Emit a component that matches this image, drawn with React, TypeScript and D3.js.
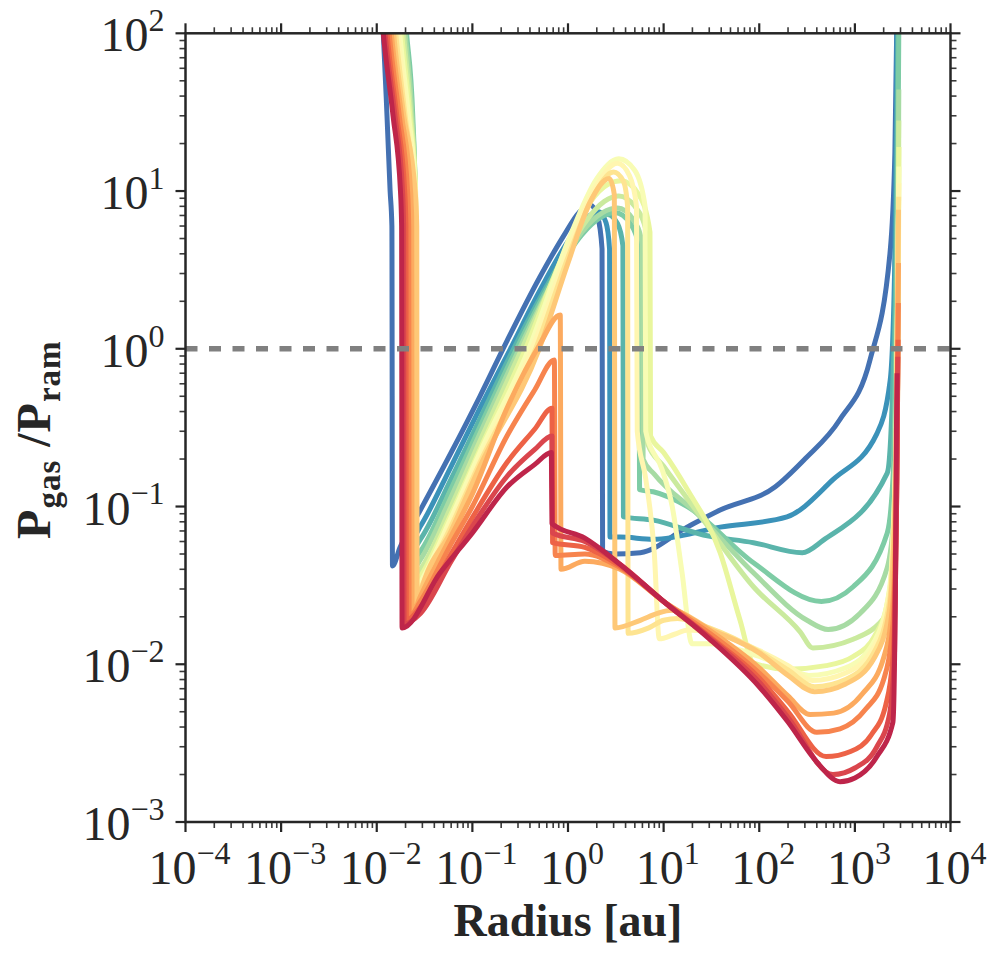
import * as d3 from "d3";

// P_gas / P_ram versus radius, one line per stage (blue = earliest, crimson = latest)
const stage00: [number, number][] = [[0.0108,200],[0.0117,100],[0.0128,30],[0.0138,10],[0.0144,6],[0.0146,0.042],[0.0175,0.055],[0.0286,0.095],[0.06,0.22],[0.12,0.5],[0.233,1.14],[0.5,2.8],[0.9,5.2],[1.3,7.3],[1.7,8.2],[2.05,6.8],[2.27,4.3],[2.3,0.052],[3.0,0.05],[5.7,0.051],[17.6,0.074],[39,0.095],[146,0.133],[300,0.2],[695,0.355],[1440,0.85],[2330,4.05],[2620,17.4],[2735,100],[2770,200]];
const stage01: [number, number][] = [[0.0168,200],[0.0185,100],[0.0222,30],[0.0245,10],[0.0247,6],[0.0249,0.066],[0.0286,0.075],[0.06,0.18],[0.12,0.42],[0.25,1.0],[0.5,2.3],[1.0,4.8],[1.5,6.6],[2.1,7.4],[2.5,6.3],[2.72,4.3],[2.75,0.064],[3.5,0.064],[7.8,0.062],[39,0.074],[195,0.086],[590,0.148],[1700,0.29],[2340,0.63],[2600,3],[2720,30],[2770,200]];
const stage02: [number, number][] = [[0.0172,200],[0.019,100],[0.0228,30],[0.0248,10],[0.025,6],[0.0252,0.056],[0.0286,0.062],[0.06,0.15],[0.12,0.36],[0.27,1.0],[0.6,2.5],[1.2,5.0],[1.8,6.6],[2.6,7.1],[3.3,6.2],[3.75,4.5],[3.8,0.086],[7.8,0.082],[26,0.066],[87,0.059],[282,0.051],[465,0.061],[2180,0.163],[2500,0.63],[2700,5],[2820,100],[2850,200]];
const stage03: [number, number][] = [[0.0186,200],[0.0205,100],[0.0238,30],[0.0252,10],[0.0254,6],[0.0256,0.048],[0.0286,0.052],[0.06,0.13],[0.12,0.32],[0.29,1.0],[0.7,2.8],[1.4,5.3],[2.2,6.8],[3.1,7.3],[4.5,6.2],[5.5,4.5],[5.6,0.128],[7.8,0.124],[17.7,0.1],[87,0.044],[447,0.025],[960,0.031],[2180,0.068],[2500,0.15],[2700,1.5],[2850,40],[2900,200]];
const stage04: [number, number][] = [[0.018,200],[0.0198,100],[0.0234,30],[0.0253,10],[0.0255,6],[0.0257,0.042],[0.0286,0.046],[0.06,0.115],[0.12,0.29],[0.31,1.0],[0.7,2.7],[1.4,5.5],[2.3,7.3],[3.3,7.8],[4.8,6.6],[6.0,4.6],[6.1,0.2],[8,0.16],[22,0.091],[87,0.038],[316,0.019],[525,0.0166],[1130,0.021],[2180,0.041],[2600,0.1],[2800,2],[2880,44]];
const stage05: [number, number][] = [[0.0172,200],[0.019,100],[0.0228,30],[0.0254,10],[0.0256,6],[0.0258,0.037],[0.0286,0.04],[0.06,0.1],[0.12,0.26],[0.33,1.0],[0.8,3.2],[1.5,6.3],[2.4,8.6],[3.4,9.3],[5,8],[6.7,5.3],[6.8,0.25],[10,0.18],[26,0.082],[87,0.031],[269,0.016],[363,0.0127],[960,0.0144],[2180,0.021],[2600,0.05],[2820,1.5],[2880,28]];
const stage06: [number, number][] = [[0.0165,200],[0.0182,100],[0.0222,30],[0.0255,10],[0.0257,6],[0.0259,0.033],[0.0286,0.036],[0.06,0.09],[0.12,0.23],[0.36,1.0],[0.9,4],[1.7,8.5],[2.6,11],[3.6,11.6],[5.5,9.5],[7.2,5.5],[7.3,0.28],[10,0.22],[17.7,0.128],[39,0.051],[63,0.019],[87,0.0102],[195,0.0093],[500,0.0098],[960,0.0112],[1600,0.015],[2200,0.025],[2600,0.06],[2830,1],[2890,19]];
const stage07: [number, number][] = [[0.0158,200],[0.0174,100],[0.0215,30],[0.0254,10],[0.0258,6],[0.026,0.03],[0.0286,0.033],[0.06,0.085],[0.12,0.22],[0.39,1.0],[1,4.8],[2,12],[3.4,16],[5,13.5],[6.4,8],[6.5,0.3],[9.7,0.17],[12.3,0.1],[15.6,0.038],[19.8,0.0135],[30,0.0135],[100,0.0112],[200,0.0095],[330,0.0085],[800,0.0095],[1600,0.014],[2300,0.03],[2700,0.3],[2890,14.3]];
const stage08: [number, number][] = [[0.015,200],[0.0166,100],[0.0206,30],[0.0248,10],[0.0254,6],[0.0256,0.027],[0.0286,0.031],[0.06,0.08],[0.12,0.2],[0.42,1.0],[1,4.2],[2,11],[3.3,15],[4.4,12.5],[5.2,8],[5.3,0.3],[6.5,0.15],[8.0,0.05],[9.0,0.0145],[13,0.0155],[18,0.0165],[30,0.016],[100,0.0122],[200,0.0098],[360,0.0079],[800,0.0088],[1600,0.013],[2300,0.028],[2700,0.3],[2880,11.2]];
const stage09: [number, number][] = [[0.0143,200],[0.0158,100],[0.0198,30],[0.0243,10],[0.0249,6],[0.0251,0.025],[0.0286,0.03],[0.06,0.075],[0.12,0.19],[0.46,1.0],[1,3.8],[1.8,9],[3.0,13.2],[3.8,11.5],[4.2,8],[4.25,0.0157],[7,0.017],[10,0.019],[14,0.0195],[30,0.017],[100,0.012],[200,0.0092],[380,0.0072],[800,0.008],[1600,0.012],[2300,0.025],[2700,0.25],[2870,9.2]];
const stage10: [number, number][] = [[0.0136,200],[0.015,100],[0.0192,30],[0.0252,10],[0.0262,6],[0.0264,0.023],[0.0286,0.028],[0.06,0.07],[0.12,0.18],[0.5,1.0],[1,3.5],[1.7,8.5],[2.7,12],[3.05,9.5],[3.1,0.017],[5.7,0.019],[8.6,0.021],[12,0.022],[30,0.0168],[100,0.0118],[200,0.0085],[380,0.0067],[800,0.0075],[1600,0.011],[2300,0.022],[2700,0.2],[2860,7.6]];
const stage11: [number, number][] = [[0.0129,200],[0.0142,100],[0.0182,30],[0.0226,10],[0.0233,6],[0.0235,0.021],[0.0286,0.027],[0.06,0.065],[0.1,0.12],[0.23,0.42],[0.5,1.05],[0.83,1.64],[0.845,0.04],[1.5,0.045],[3.5,0.04],[10,0.025],[30,0.0165],[100,0.0095],[200,0.0063],[340,0.0048],[600,0.0049],[1200,0.0065],[2000,0.011],[2500,0.025],[2750,0.3],[2860,3.5]];
const stage12: [number, number][] = [[0.0123,200],[0.0135,100],[0.0172,30],[0.021,10],[0.0216,6],[0.0218,0.02],[0.0286,0.025],[0.06,0.058],[0.1,0.1],[0.23,0.28],[0.45,0.55],[0.72,0.85],[0.735,0.049],[1.5,0.05],[3.5,0.041],[10,0.025],[30,0.0158],[100,0.0088],[200,0.0058],[400,0.0037],[700,0.0039],[1300,0.0052],[2000,0.008],[2500,0.018],[2750,0.2],[2850,1.95]];
const stage13: [number, number][] = [[0.0117,200],[0.0128,100],[0.0162,30],[0.0196,10],[0.0202,6],[0.0204,0.019],[0.0286,0.023],[0.06,0.05],[0.1,0.085],[0.23,0.19],[0.45,0.31],[0.68,0.42],[0.69,0.059],[1.5,0.055],[3.5,0.042],[10,0.025],[30,0.015],[100,0.0082],[200,0.005],[500,0.0026],[900,0.0028],[1500,0.0036],[2100,0.0055],[2500,0.011],[2750,0.15],[2830,1.14]];
const stage14: [number, number][] = [[0.0111,200],[0.0122,100],[0.0155,30],[0.0186,10],[0.0191,6],[0.0193,0.018],[0.0286,0.021],[0.06,0.045],[0.1,0.075],[0.23,0.155],[0.45,0.23],[0.68,0.28],[0.69,0.068],[1.5,0.06],[3.5,0.043],[10,0.025],[30,0.0148],[100,0.0077],[200,0.0046],[590,0.002],[1000,0.0022],[1700,0.003],[2300,0.0048],[2600,0.012],[2750,0.15],[2810,0.89]];
const stage15: [number, number][] = [[0.0106,200],[0.0117,100],[0.0148,30],[0.0177,10],[0.0182,6],[0.0184,0.017],[0.046,0.038],[0.1,0.068],[0.23,0.133],[0.45,0.185],[0.67,0.22],[0.68,0.078],[1.5,0.063],[3.5,0.043],[10,0.025],[30,0.0145],[100,0.0072],[200,0.0043],[400,0.0024],[700,0.0018],[1000,0.0019],[1700,0.0026],[2500,0.0043],[2650,0.03],[2720,0.3],[2760,0.7]];

const stages = [stage00, stage01, stage02, stage03, stage04, stage05, stage06, stage07,
  stage08, stage09, stage10, stage11, stage12, stage13, stage14, stage15];

const xTickExps = [-4, -3, -2, -1, 0, 1, 2, 3, 4];
const yTickExps = [-3, -2, -1, 0, 1, 2];
const equality = 1;

const W = 996, H = 960;
const margin = { top: 33.3, right: 45.5, bottom: 138, left: 185.5 };
const ink = "#262626";
const serif = "'Liberation Serif', 'DejaVu Serif', serif";

// matplotlib-style Spectral (linear between the 11 anchors), reversed, sampled like seaborn
const spectral = d3.scaleLinear<string>()
  .domain(d3.range(11).map(i => i / 10))
  .range(d3.schemeSpectral[11])
  .interpolate(d3.interpolateRgb);
const colorOf = (i: number) => spectral(1 - (i + 1) / (stages.length + 1));

function Pow({ base, exp, size, sup }: { base: string; exp: number; size: number; sup: number }) {
  const e = exp < 0 ? "\u2212" + Math.abs(exp) : String(exp);
  return (
    <>
      <tspan fontSize={size}>{base}</tspan>
      <tspan fontSize={sup} dy={-size * 0.42}>{e}</tspan>
    </>
  );
}

export default function App() {
  const x0 = margin.left, x1 = W - margin.right;
  const y0 = H - margin.bottom, y1 = margin.top;

  const x = d3.scaleLog().domain([1e-4, 1e4]).range([x0, x1]);
  const y = d3.scaleLog().domain([1e-3, 1e2]).range([y0, y1]);

  const line = d3.line<[number, number]>()
    .x(d => x(d[0]))
    .y(d => y(d[1]))
    .curve(d3.curveMonotoneX);

  const xMinor: number[] = [];
  xTickExps.slice(0, -1).forEach(e => { for (let k = 2; k < 10; k++) xMinor.push(k * Math.pow(10, e)); });
  const yMinor: number[] = [];
  yTickExps.slice(0, -1).forEach(e => { for (let k = 2; k < 10; k++) yMinor.push(k * Math.pow(10, e)); });

  const major = 10, minor = 6;

  return (
    <svg width={W} height={H} style={{ position: "absolute", left: 0, top: 0, background: "#fff" }}
      fontFamily={serif}>
      <defs>
        <clipPath id="plot">
          <rect x={x0} y={y1} width={x1 - x0} height={y0 - y1} />
        </clipPath>
      </defs>

      <g clipPath="url(#plot)" fill="none" strokeWidth={5} strokeLinejoin="round" strokeLinecap="butt">
        {stages.map((s, i) => (
          <path key={i} d={line(s) ?? ""} stroke={colorOf(i)} />
        ))}
      </g>

      <line x1={x0} x2={x1} y1={y(equality)} y2={y(equality)}
        stroke="#808080" strokeWidth={5.5} strokeDasharray="12 11.5" />

      {/* minor ticks, all four sides, pointing out */}
      <g stroke="#3a3a3a" strokeWidth={1.6}>
        {xMinor.map(v => (
          <g key={"xm" + v}>
            <line x1={x(v)} x2={x(v)} y1={y0} y2={y0 + minor} />
            <line x1={x(v)} x2={x(v)} y1={y1} y2={y1 - minor} />
          </g>
        ))}
        {yMinor.map(v => (
          <g key={"ym" + v}>
            <line x1={x0} x2={x0 - minor} y1={y(v)} y2={y(v)} />
            <line x1={x1} x2={x1 + minor} y1={y(v)} y2={y(v)} />
          </g>
        ))}
      </g>
      <g stroke={ink} strokeWidth={2.2}>
        {xTickExps.map(e => {
          const px = x(Math.pow(10, e));
          return (
            <g key={"xM" + e}>
              <line x1={px} x2={px} y1={y0} y2={y0 + major} />
              <line x1={px} x2={px} y1={y1} y2={y1 - major} />
            </g>
          );
        })}
        {yTickExps.map(e => {
          const py = y(Math.pow(10, e));
          return (
            <g key={"yM" + e}>
              <line x1={x0} x2={x0 - major} y1={py} y2={py} />
              <line x1={x1} x2={x1 + major} y1={py} y2={py} />
            </g>
          );
        })}
      </g>

      <rect x={x0} y={y1} width={x1 - x0} height={y0 - y1} fill="none" stroke={ink} strokeWidth={2.5} />

      <g fill={ink}>
        {xTickExps.map(e => (
          <text key={"xl" + e} x={x(Math.pow(10, e)) + 4} y={y0 + 62} textAnchor="middle">
            <Pow base="10" exp={e} size={48} sup={32} />
          </text>
        ))}
        {yTickExps.map(e => (
          <text key={"yl" + e} x={x0 - 21} y={y(Math.pow(10, e)) + 18} textAnchor="end">
            <Pow base="10" exp={e} size={48} sup={32} />
          </text>
        ))}
      </g>

      <text x={(x0 + x1) / 2} y={936} textAnchor="middle" fontSize={46} fontWeight="bold" fill={ink}>
        Radius [au]
      </text>
      <text transform={`translate(50, ${(y0 + y1) / 2 + 12}) rotate(-90)`} textAnchor="middle"
        fontWeight="bold" fill={ink} letterSpacing={1}>
        <tspan fontSize={48}>P</tspan>
        <tspan fontSize={33} dy={10}>gas</tspan>
        <tspan fontSize={48} dy={-10}>{" /"}</tspan>
        <tspan fontSize={48}>P</tspan>
        <tspan fontSize={33} dy={10}>ram</tspan>
      </text>
    </svg>
  );
}
